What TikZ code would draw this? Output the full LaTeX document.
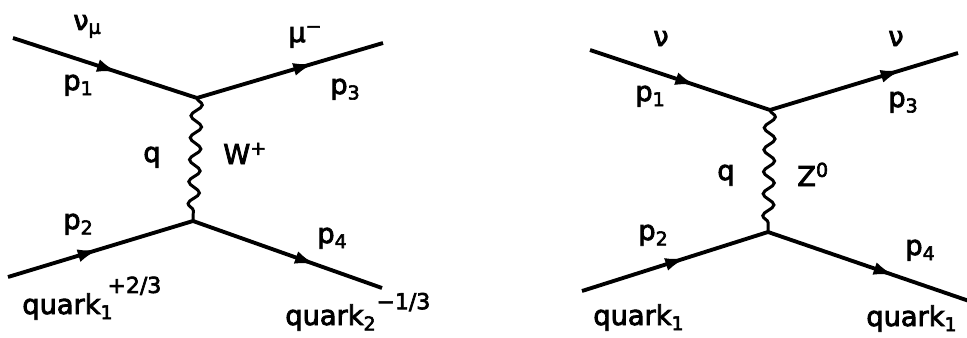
\documentclass[tikz,border=0pt]{standalone}
\usepackage{fontspec}
\setmainfont{DejaVu Sans}[FakeBold=3]
\usetikzlibrary{arrows.meta,decorations.pathmorphing,decorations.markings}
\newcommand{\chg}[2]{\raisebox{#1}{\fontsize{12.5}{14}\selectfont #2}}
\tikzset{
  fermion/.style={line width=2.2pt, postaction={decorate},
    decoration={markings, mark=at position #1 with {\arrow{Latex[length=4.2mm,width=2.6mm]}}}},
  fermion/.default=0.55,
  boson/.style={line width=1.7pt, decorate, decoration={snake, amplitude=1.1mm, segment length=4.4mm}},
  lbl/.style={font=\fontsize{15.5}{18}\selectfont\addfontfeature{FakeBold=3}, inner sep=0pt, anchor=base west}
}

\begin{document}
\begin{tikzpicture}[x=0.02cm,y=-0.02cm]
  \useasboundingbox (0,0) rectangle (967,338);
  % charged current, W exchange
  \coordinate (wnuin)  at (13,38);
  \coordinate (wmuout) at (383,43);
  \coordinate (wqin)   at (8,277);
  \coordinate (wqout)  at (382,288);
  \coordinate (wtop)   at (197,98);
  \coordinate (wbot)   at (193,221);
  \draw[fermion=0.57] (wnuin) -- (wtop);
  \draw[fermion=0.63] (wtop) -- (wmuout);
  \draw[fermion=0.49] (wqin) -- (wbot);
  \draw[fermion=0.65] (wbot) -- (wqout);
  \draw[boson] (wtop) -- (wbot);
  \node[lbl] (wnu) at (73,30) {ν\textsubscript{μ}};
  \node[lbl] (wmu) at (288,42) {μ\textsuperscript{−}};
  \node[lbl] (wp1) at (63,90) {p\textsubscript{1}};
  \node[lbl] (wp3) at (330,94) {p\textsubscript{3}};
  \node[lbl] (wq) at (143,162) {q};
  \node[lbl] (ww) at (223,164) {W\textsuperscript{+}};
  \node[lbl] (wp2) at (63,229) {p\textsubscript{2}};
  \node[lbl] (wp4) at (317,243) {p\textsubscript{4}};
  \node[lbl] (wquarka) at (22,314) {quark\rlap{\textsubscript{1}}\kern4pt\chg{12pt}{+2/3}};
  \node[lbl] (wquarkb) at (285,325) {quark\textsubscript{2}\chg{9pt}{−1/3}};
  % neutral current, Z exchange
  \coordinate (znuin)  at (590,50);
  \coordinate (znuout) at (958,53);
  \coordinate (zqin)   at (582,291);
  \coordinate (zqout)  at (972,302);
  \coordinate (ztop)   at (770,110);
  \coordinate (zbot)   at (768,232);
  \draw[fermion=0.59] (znuin) -- (ztop);
  \draw[fermion=0.7] (ztop) -- (znuout);
  \draw[fermion=0.56] (zqin) -- (zbot);
  \draw[fermion=0.62] (zbot) -- (zqout);
  \draw[boson] (ztop) -- (zbot);
  \node[lbl] (znua) at (653,46) {ν};
  \node[lbl] (znub) at (888,46) {ν};
  \node[lbl] (zp1) at (635,101) {p\textsubscript{1}};
  \node[lbl] (zp3) at (888,107) {p\textsubscript{3}};
  \node[lbl] (zq) at (717,180) {q};
  \node[lbl] (zz) at (797,186) {Z\textsuperscript{0}};
  \node[lbl] (zp2) at (638,240) {p\textsubscript{2}};
  \node[lbl] (zp4) at (905,255) {p\textsubscript{4}};
  \node[lbl] (zquarka) at (593,325) {quark\textsubscript{1}};
  \node[lbl] (zquarkb) at (866,326) {quark\textsubscript{1}};
\end{tikzpicture}
\end{document}
